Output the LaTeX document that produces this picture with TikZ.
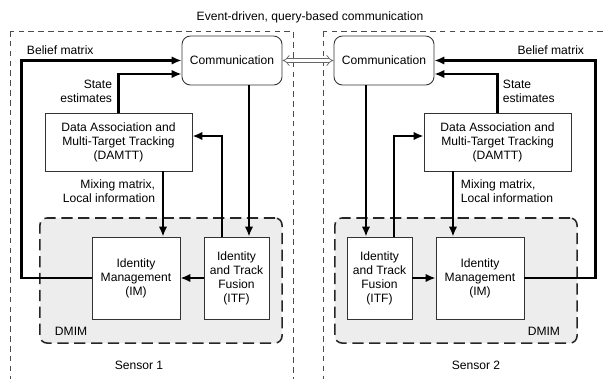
\documentclass[tikz,border=0pt]{standalone}
\usepackage{fontspec}
\setmainfont{Liberation Sans}
\usetikzlibrary{positioning, calc, arrows.meta}

\begin{document}
\begin{tikzpicture}[
    x=0.025cm, y=-0.025cm,
    font=\fontsize{8.6}{10}\selectfont,
    block/.style={draw=black!80, line width=0.6pt, fill=white, align=center, inner sep=2pt},
    commbox/.style={block, rounded corners=6pt, minimum width=2.5cm, minimum height=1.225cm},
    trackbox/.style={block, minimum width=3.675cm, minimum height=1.45cm},
    idbox/.style={block, minimum width=2.2cm, minimum height=2.05cm},
    fusebox/.style={block, minimum width=1.625cm, minimum height=2.05cm},
    dmimbox/.style={draw=black!85, line width=1.1pt, dash pattern=on 8pt off 4pt,
        fill=gray!14, rounded corners=5pt, minimum width=6.05cm, minimum height=3.125cm},
    sensor/.style={draw=black!70, line width=0.5pt, dash pattern=on 4pt off 3pt},
    arrow/.style={-{Latex[length=7pt,width=6pt]}, line width=1.6pt},
    query/.style={draw=black!60, double=white, double distance=2.2pt, line width=0.5pt,
        {Implies[scale=1.5]}-{Implies[scale=1.5]}}
]
\useasboundingbox (0,0) rectangle (603,378);

% --- Sensor frames ---
\draw[sensor] (10,31) rectangle (293,390);
\draw[sensor] (323,31) rectangle (606,390);
\node (title) at (310,17) {Event-driven, query-based communication};

% --- Sensor 1 ---
\node[dmimbox] (dmim1) at (161,280.5) {};
\node[anchor=west] at (50,331) {DMIM};
\node (s1) at (139,365) {Sensor 1};

\node[commbox] (comm1) at (232,60.5) {Communication};
\node[trackbox] (damtt1) at (118.5,142) {Data Association and\\Multi-Target Tracking\\(DAMTT)};
\node[idbox] (im1) at (136,278) {Identity\\Management\\(IM)};
\node[fusebox] (itf1) at (236.5,278) {Identity\\and Track\\Fusion\\(ITF)};

\coordinate (c1) at ($(itf1.north)+(12.5,0)$);
\coordinate (f1) at ($(itf1.north)+(-14.5,0)$);
\coordinate (m1) at ($(im1.north)+(27,0)$);

\draw[arrow] (im1.west) -- ++(-70,0) |- (comm1.west);
\draw[arrow] (damtt1.north) |- ($(comm1.west)+(0,13.5)$);
\draw[arrow] (comm1.south -| c1) -- (c1);
\draw[arrow] (f1) |- ($(damtt1.east)+(0,-6)$);
\draw[arrow] (damtt1.south -| m1) -- (m1);
\draw[arrow] (itf1.west) -- (im1.east);

\node[anchor=west] at (22,50) {Belief matrix};
\node[anchor=east, align=right] at (117,91) {State\\estimates};
\node[anchor=east, align=right] at (160,191) {Mixing matrix,\\Local information};

% --- Sensor 2 ---
\node[dmimbox] (dmim2) at (456,280.5) {};
\node[anchor=east] at (565,331) {DMIM};
\node (s2) at (476,365) {Sensor 2};

\node[commbox] (comm2) at (384,60.5) {Communication};
\node[trackbox] (damtt2) at (497.5,142) {Data Association and\\Multi-Target Tracking\\(DAMTT)};
\node[idbox] (im2) at (480,278) {Identity\\Management\\(IM)};
\node[fusebox] (itf2) at (379.5,278) {Identity\\and Track\\Fusion\\(ITF)};

\coordinate (c2) at ($(itf2.north)+(-13.5,0)$);
\coordinate (f2) at ($(itf2.north)+(14.5,0)$);
\coordinate (m2) at ($(im2.north)+(-27,0)$);

\draw[arrow] (im2.east) -- ++(71,0) |- (comm2.east);
\draw[arrow] (damtt2.north) |- ($(comm2.east)+(0,13.5)$);
\draw[arrow] (comm2.south -| c2) -- (c2);
\draw[arrow] (f2) |- ($(damtt2.west)+(0,-6)$);
\draw[arrow] (damtt2.south -| m2) -- (m2);
\draw[arrow] (itf2.east) -- (im2.west);

\node[anchor=east] at (589,50) {Belief matrix};
\node[anchor=west, align=left] at (498,91) {State\\estimates};
\node[anchor=west, align=left] at (456,191) {Mixing matrix,\\Local information};

% --- Link between the two sensors ---
\draw[query] (comm1.east) -- (comm2.west);

\end{tikzpicture}
\end{document}
